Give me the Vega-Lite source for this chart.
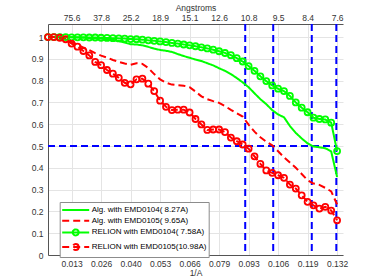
{
  "$schema": "https://vega.github.io/schema/vega-lite/v6.json",
  "width": 295,
  "height": 231,
  "autosize": "none",
  "padding": {"left": 48, "top": 24, "right": 31, "bottom": 25},
  "background": "white",
  "config": {
    "view": {"stroke": null},
    "font": "Liberation Sans",
    "axis": {
      "labelFont": "Liberation Sans",
      "titleFont": "Liberation Sans",
      "labelFontSize": 8.5,
      "titleFontSize": 8.5,
      "titleFontWeight": "normal",
      "labelColor": "#333333",
      "titleColor": "#333333",
      "domainColor": "#555555",
      "gridColor": "#e4e4e4",
      "ticks": false,
      "labelOverlap": false
    },
    "axisY": {"grid": true, "labelPadding": 5}
  },
  "datasets": {
    "fsc": [
      {"x": 0.002646, "A1": 1.0, "A2": 1.0, "R1": 1.0, "R2": 1.0},
      {"x": 0.005291, "A1": 1.0, "A2": 1.0, "R1": 1.0, "R2": 1.0},
      {"x": 0.007937, "A1": 1.0, "A2": 0.996, "R1": 1.0, "R2": 0.997},
      {"x": 0.010582, "A1": 0.999, "A2": 0.99, "R1": 1.0, "R2": 0.99},
      {"x": 0.013228, "A1": 0.999, "A2": 0.978, "R1": 0.999, "R2": 0.97},
      {"x": 0.015873, "A1": 0.998, "A2": 0.965, "R1": 0.999, "R2": 0.956},
      {"x": 0.018519, "A1": 0.997, "A2": 0.952, "R1": 0.999, "R2": 0.936},
      {"x": 0.021164, "A1": 0.996, "A2": 0.94, "R1": 0.998, "R2": 0.916},
      {"x": 0.02381, "A1": 0.995, "A2": 0.926, "R1": 0.998, "R2": 0.886},
      {"x": 0.026455, "A1": 0.993, "A2": 0.915, "R1": 0.997, "R2": 0.871},
      {"x": 0.029101, "A1": 0.99, "A2": 0.906, "R1": 0.996, "R2": 0.849},
      {"x": 0.031746, "A1": 0.987, "A2": 0.895, "R1": 0.995, "R2": 0.832},
      {"x": 0.034392, "A1": 0.982, "A2": 0.886, "R1": 0.994, "R2": 0.813},
      {"x": 0.037037, "A1": 0.975, "A2": 0.879, "R1": 0.993, "R2": 0.79},
      {"x": 0.039683, "A1": 0.967, "A2": 0.873, "R1": 0.991, "R2": 0.783},
      {"x": 0.042328, "A1": 0.966, "A2": 0.88, "R1": 0.99, "R2": 0.806},
      {"x": 0.044974, "A1": 0.962, "A2": 0.877, "R1": 0.988, "R2": 0.809},
      {"x": 0.047619, "A1": 0.955, "A2": 0.858, "R1": 0.985, "R2": 0.786},
      {"x": 0.050265, "A1": 0.947, "A2": 0.83, "R1": 0.983, "R2": 0.752},
      {"x": 0.05291, "A1": 0.941, "A2": 0.806, "R1": 0.98, "R2": 0.708},
      {"x": 0.055556, "A1": 0.937, "A2": 0.791, "R1": 0.977, "R2": 0.68},
      {"x": 0.058201, "A1": 0.932, "A2": 0.782, "R1": 0.973, "R2": 0.665},
      {"x": 0.060847, "A1": 0.922, "A2": 0.779, "R1": 0.97, "R2": 0.667},
      {"x": 0.063492, "A1": 0.913, "A2": 0.777, "R1": 0.966, "R2": 0.667},
      {"x": 0.066138, "A1": 0.905, "A2": 0.77, "R1": 0.962, "R2": 0.654},
      {"x": 0.068783, "A1": 0.897, "A2": 0.75, "R1": 0.958, "R2": 0.624},
      {"x": 0.071429, "A1": 0.89, "A2": 0.728, "R1": 0.953, "R2": 0.599},
      {"x": 0.074074, "A1": 0.88, "A2": 0.715, "R1": 0.948, "R2": 0.574},
      {"x": 0.07672, "A1": 0.87, "A2": 0.706, "R1": 0.942, "R2": 0.576},
      {"x": 0.079365, "A1": 0.857, "A2": 0.698, "R1": 0.935, "R2": 0.576},
      {"x": 0.082011, "A1": 0.845, "A2": 0.683, "R1": 0.927, "R2": 0.564},
      {"x": 0.084656, "A1": 0.83, "A2": 0.666, "R1": 0.917, "R2": 0.539},
      {"x": 0.087302, "A1": 0.812, "A2": 0.65, "R1": 0.903, "R2": 0.522},
      {"x": 0.089947, "A1": 0.792, "A2": 0.635, "R1": 0.888, "R2": 0.507},
      {"x": 0.092593, "A1": 0.77, "A2": 0.598, "R1": 0.867, "R2": 0.488},
      {"x": 0.095238, "A1": 0.742, "A2": 0.566, "R1": 0.845, "R2": 0.453},
      {"x": 0.097884, "A1": 0.715, "A2": 0.54, "R1": 0.82, "R2": 0.418},
      {"x": 0.100529, "A1": 0.692, "A2": 0.52, "R1": 0.798, "R2": 0.388},
      {"x": 0.103175, "A1": 0.665, "A2": 0.503, "R1": 0.778, "R2": 0.377},
      {"x": 0.10582, "A1": 0.645, "A2": 0.476, "R1": 0.763, "R2": 0.366},
      {"x": 0.108466, "A1": 0.632, "A2": 0.448, "R1": 0.752, "R2": 0.354},
      {"x": 0.111111, "A1": 0.592, "A2": 0.424, "R1": 0.73, "R2": 0.323},
      {"x": 0.113757, "A1": 0.56, "A2": 0.4, "R1": 0.7, "R2": 0.305},
      {"x": 0.116402, "A1": 0.535, "A2": 0.372, "R1": 0.676, "R2": 0.274},
      {"x": 0.119048, "A1": 0.512, "A2": 0.343, "R1": 0.655, "R2": 0.244},
      {"x": 0.121693, "A1": 0.498, "A2": 0.328, "R1": 0.63, "R2": 0.228},
      {"x": 0.124339, "A1": 0.494, "A2": 0.322, "R1": 0.624, "R2": 0.213},
      {"x": 0.126984, "A1": 0.49, "A2": 0.308, "R1": 0.622, "R2": 0.221},
      {"x": 0.12963, "A1": 0.475, "A2": 0.292, "R1": 0.607, "R2": 0.204},
      {"x": 0.132275, "A1": 0.358, "A2": 0.232, "R1": 0.477, "R2": 0.159}
    ],
    "vlines": [
      {"x": 0.091075},
      {"x": 0.103627},
      {"x": 0.120919},
      {"x": 0.131926}
    ],
    "hline": [
      {"x": 0.002646, "x2": 0.131926, "y": 0.5}
    ]
  },
  "layer": [
    {
      "data": {"name": "vlines"},
      "mark": {"type": "rule", "color": "#0000ff", "strokeWidth": 2, "strokeDash": [7, 4]},
      "encoding": {
        "x": {
          "field": "x", "type": "quantitative",
          "scale": {"domain": [0.002646, 0.134921], "nice": false, "zero": false},
          "axis": {
            "orient": "top",
            "title": "Angstroms",
            "grid": false,
            "values": [0.013228, 0.026455, 0.039683, 0.05291, 0.066138, 0.079365, 0.092593, 0.10582, 0.119048, 0.132275],
            "labelExpr": "['75.6','37.8','25.2','18.9','15.1','12.6','10.8','9.5','8.4','7.6'][round(datum.value*75.6)-1]",
            "labelPadding": 2,
            "titlePadding": 1
          }
        }
      }
    },
    {
      "data": {"name": "hline"},
      "mark": {"type": "rule", "color": "#0000ff", "strokeWidth": 2, "strokeDash": [7, 4]},
      "encoding": {
        "x": {"field": "x", "type": "quantitative", "axis": null},
        "x2": {"field": "x2"},
        "y": {
          "field": "y", "type": "quantitative", "title": null,
          "axis": {"values": [0, 0.1, 0.2, 0.3, 0.4, 0.5, 0.6, 0.7, 0.8, 0.9, 1], "format": "~g", "grid": true, "title": null}
        }
      }
    },
    {
      "data": {"name": "fsc"},
      "transform": [{"fold": ["A1", "A2", "R1", "R2"], "as": ["key", "value"]}],
      "mark": {"type": "line", "strokeWidth": 2},
      "encoding": {
        "x": {
          "field": "x", "type": "quantitative",
          "axis": {
            "orient": "bottom",
            "title": "1/A",
            "grid": true,
            "values": [0.013228, 0.026455, 0.039683, 0.05291, 0.066138, 0.079365, 0.092593, 0.10582, 0.119048, 0.132275],
            "format": ".3f",
            "labelPadding": 4,
            "titlePadding": 1
          }
        },
        "y": {
          "field": "value", "type": "quantitative", "title": null,
          "scale": {"domain": [0, 1.06], "nice": false},
          "axis": {"values": [0, 0.1, 0.2, 0.3, 0.4, 0.5, 0.6, 0.7, 0.8, 0.9, 1], "format": "~g", "grid": true, "title": null}
        },
        "color": {
          "field": "key", "type": "nominal",
          "scale": {"domain": ["A1", "A2", "R1", "R2"], "range": ["#00ff00", "#ff0000", "#00ff00", "#ff0000"]},
          "legend": {
            "orient": "none",
            "legendX": 11.7,
            "legendY": 178,
            "title": null,
            "fillColor": "white",
            "strokeColor": "#8c8c8c",
            "padding": 2,
            "labelFont": "Liberation Sans",
            "labelFontSize": 8,
            "labelColor": "#000000",
            "symbolSize": 100,
            "symbolStrokeWidth": 2,
            "symbolOffset": 8,
            "labelOffset": 10,
            "rowPadding": 0.7,
            "labelExpr": "{'A1':'Alg. with EMD0104( 8.27A)','A2':'Alg. with EMD0105( 9.65A)','R1':'RELION with EMD0104( 7.58A)','R2':'RELION with EMD0105(10.98A)'}[datum.label]"
          }
        },
        "strokeDash": {
          "field": "key", "type": "nominal",
          "scale": {"domain": ["A1", "A2", "R1", "R2"], "range": [[1, 0], [7, 4], [1, 0], [7, 4]]}
        }
      }
    },
    {
      "data": {"name": "fsc"},
      "transform": [
        {"fold": ["R1", "R2"], "as": ["key", "value"]}
      ],
      "mark": {"type": "point", "shape": "circle", "filled": false, "size": 36, "strokeWidth": 1.8, "opacity": 1},
      "encoding": {
        "x": {"field": "x", "type": "quantitative", "axis": null},
        "y": {
          "field": "value", "type": "quantitative", "title": null,
          "axis": {"values": [0, 0.1, 0.2, 0.3, 0.4, 0.5, 0.6, 0.7, 0.8, 0.9, 1], "format": "~g", "grid": true, "title": null}
        },
        "color": {"field": "key", "type": "nominal"}
      }
    },
    {
      "data": {"name": "fsc"},
      "transform": [
        {"filter": "datum.x < 0"},
        {"fold": ["A1", "A2", "R1", "R2"], "as": ["key", "value"]}
      ],
      "mark": {"type": "point", "filled": false, "strokeWidth": 2, "opacity": 1},
      "encoding": {
        "x": {"field": "x", "type": "quantitative", "axis": null},
        "y": {
          "field": "value", "type": "quantitative", "title": null,
          "axis": {"values": [0, 0.1, 0.2, 0.3, 0.4, 0.5, 0.6, 0.7, 0.8, 0.9, 1], "format": "~g", "grid": true, "title": null}
        },
        "color": {"field": "key", "type": "nominal"},
        "shape": {
          "field": "key", "type": "nominal",
          "scale": {
            "domain": ["A1", "A2", "R1", "R2"],
            "range": [
              "M-2.7,0L2.7,0",
              "M-2.7,0L2.7,0",
              "M-2.7,0L2.7,0M0.6,0A0.6,0.6,0,1,1,-0.6,0A0.6,0.6,0,1,1,0.6,0",
              "M-2.7,0L2.7,0M0.6,0A0.6,0.6,0,1,1,-0.6,0A0.6,0.6,0,1,1,0.6,0"
            ]
          }
        }
      }
    }
  ],
  "resolve": {"axis": {"x": "independent"}}
}
